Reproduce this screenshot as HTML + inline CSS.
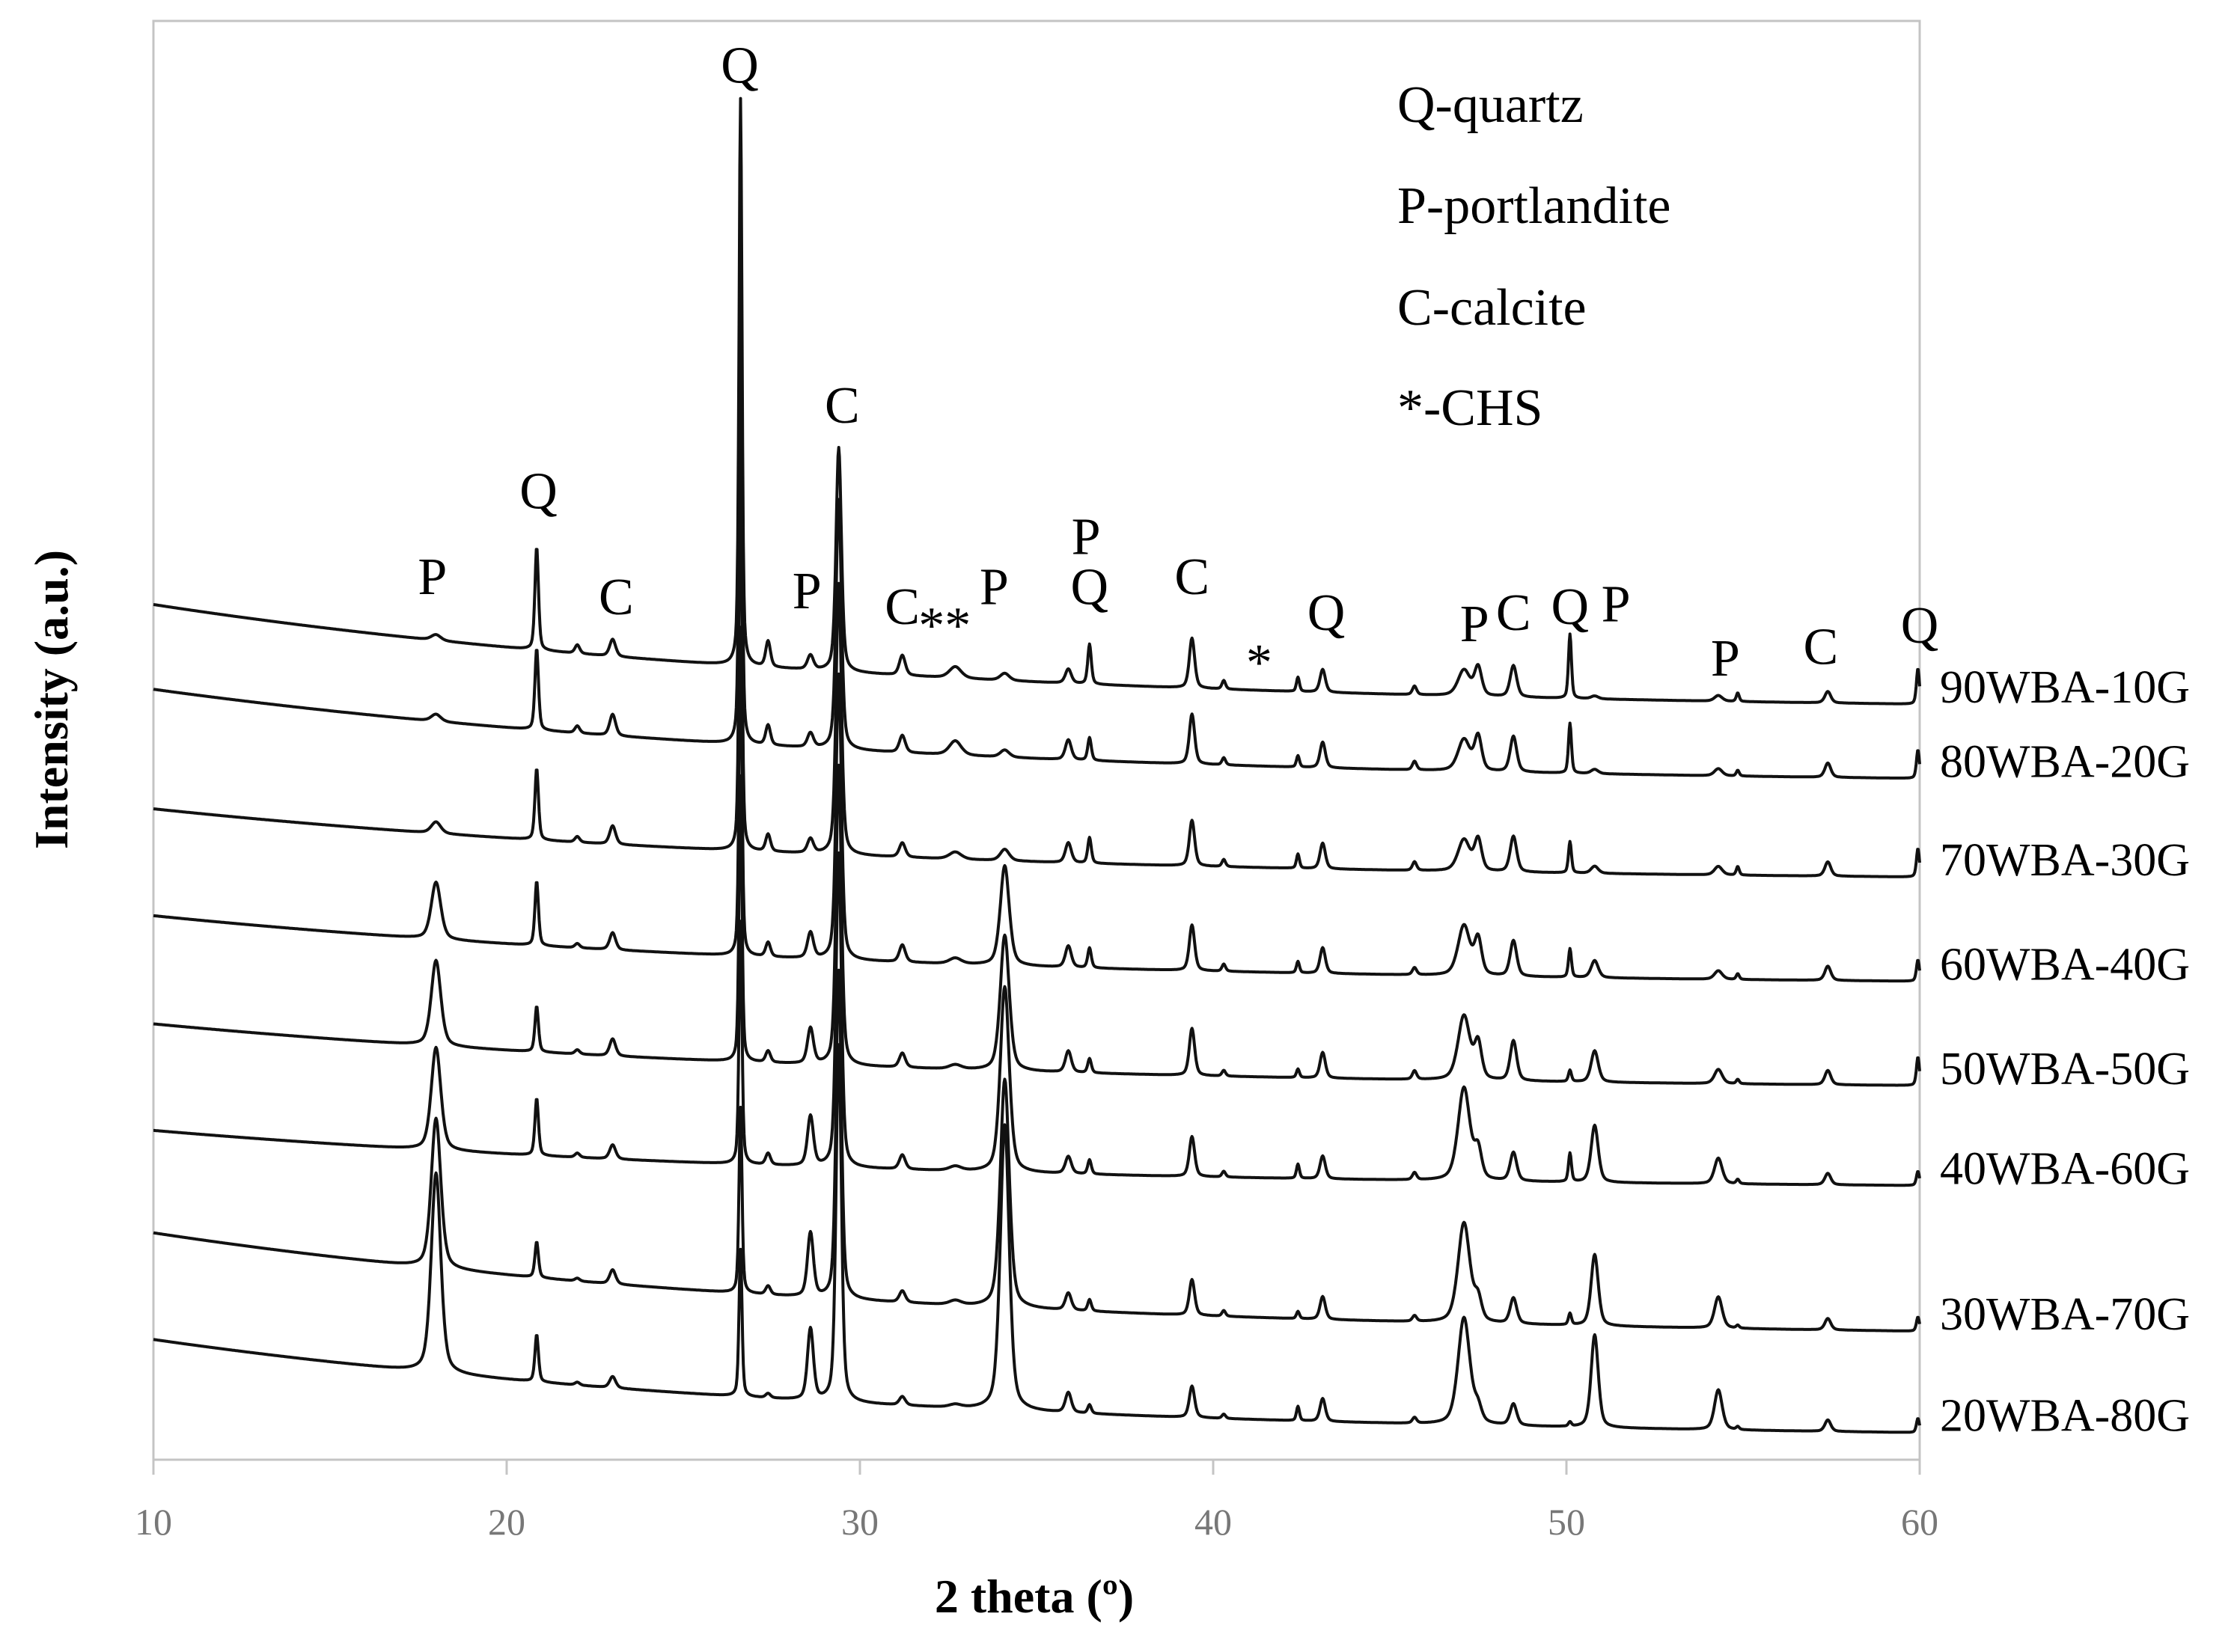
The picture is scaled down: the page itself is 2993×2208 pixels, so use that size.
<!DOCTYPE html>
<html><head><meta charset="utf-8"><style>
html,body{margin:0;padding:0;background:#fff}
svg{display:block}
text{font-family:"Liberation Serif",serif}
</style></head><body>
<svg id="chart" width="2993" height="2208" viewBox="0 0 2993 2208" xmlns="http://www.w3.org/2000/svg">
<rect x="205" y="28" width="2360" height="1923" fill="none" stroke="#c4c4c4" stroke-width="3"/>
<g id="xaxis"></g>
<g id="series"></g>
<g id="labels"></g>
<g id="peaklabels"></g>
<g font-size="70">
<text x="1867" y="163">Q-quartz</text>
<text x="1867" y="298">P-portlandite</text>
<text x="1867" y="434">C-calcite</text>
<text x="1867" y="568">*-CHS</text>
</g>
<text x="1382" y="2155" font-size="64" font-weight="bold" text-anchor="middle">2 theta (º)</text>
<text transform="translate(90,935) rotate(-90)" font-size="64" font-weight="bold" text-anchor="middle">Intensity (a.u.)</text>
</svg>
<script>
const seriesNames = ["90WBA-10G","80WBA-20G","70WBA-30G","60WBA-40G","50WBA-50G","40WBA-60G","30WBA-70G","20WBA-80G"];
const seriesLevels = [529,477,408,335,262,192,90,19];
const seriesBackground = [76,68,52,50,47,42,75,71];
const xTicks = [10,20,30,40,50,60];
const peakPositions = [18.0,20.85,22.0,23.0,26.62,27.4,28.6,29.4,31.2,32.7,34.1,35.9,36.5,39.4,40.3,42.4,43.1,45.7,47.1,47.5,48.5,50.1,50.8,54.3,54.85,57.4,59.95];
const peakWidths = [0.16,0.06,0.08,0.1,0.05,0.08,0.1,0.09,0.1,0.2,0.15,0.1,0.06,0.09,0.06,0.05,0.09,0.07,0.2,0.12,0.11,0.05,0.12,0.13,0.05,0.1,0.05];
const h90 = [4,72,6,12,397,18,10,157,14,8,5,10,28,35,6,10,16,6,18,20,22,45,2,4,6,8,25];
const h80 = [5,57,5,15,330,14,10,175,12,10,5,14,16,35,5,8,18,6,22,24,25,35,3,5,4,10,20];
const h70 = [8,50,4,13,280,12,10,190,10,5,8,14,18,32,5,10,18,6,22,22,25,22,5,6,6,10,20];
const h60 = [40,45,3,12,230,10,18,200,12,4,70,15,14,32,5,8,18,5,35,25,25,20,12,6,4,10,15];
const h50 = [60,32,3,12,200,8,25,210,10,3,95,15,10,33,4,6,18,6,45,25,28,8,22,10,3,10,20];
const h40 = [72,40,3,10,170,8,35,220,10,3,130,12,10,28,4,10,16,5,65,20,20,20,40,18,3,8,10];
const h30 = [105,25,2,10,130,6,45,230,8,3,160,12,8,25,4,5,16,4,70,15,18,8,50,22,2,8,10];
const h20 = [140,33,2,8,103,3,50,250,6,2,200,14,6,22,3,10,16,4,75,10,15,3,65,28,2,8,10];
const seriesHeights = [h90,h80,h70,h60,h50,h40,h30,h20];
const peakLabelText = ["P","Q","C","Q","P","C","C","**","P","P","Q","C","*","Q","P","C","Q","P","P","C","Q"];
const peakLabelX = [17.9,20.9,23.1,26.6,28.5,29.5,31.2,32.4,33.8,36.4,36.5,39.4,41.3,43.2,47.4,48.5,50.1,51.4,54.5,57.2,60.0];
const peakLabelTop = [403,343,417,45,413,283,424,437,410,375,410,403,463,428,436,428,424,422,460,452,437];

const SVGNS="http://www.w3.org/2000/svg";
const X0=205,X1=2565,Y0=1951,K=1.909;
function xs(v){return X0+(v-10)/50*(X1-X0);}
function ys(v){return Y0-v*K;}
function mk(tag,attrs,parent){const e=document.createElementNS(SVGNS,tag);for(const k in attrs)e.setAttribute(k,attrs[k]);parent.appendChild(e);return e;}

const xa=document.getElementById('xaxis');
xTicks.forEach(t=>{
  const ln=mk('line',{x1:xs(t),x2:xs(t),y1:Y0,y2:Y0+20,stroke:'#c4c4c4','stroke-width':3},xa);
  
  
  const tx=mk('text',{x:xs(t),y:Y0+100,'font-size':50,fill:'#777','text-anchor':'middle'},xa);
  
  
  tx.textContent=t;
});

const sg=document.getElementById('series');
const lg=document.getElementById('labels');
function intensity(si,x){
  let v=seriesLevels[si]+seriesBackground[si]*(Math.exp(-(x-10)/20)-Math.exp(-2.5));
  const hs=seriesHeights[si];
  for(let p=0;p<peakPositions.length;p++){
    const d=(x-peakPositions[p])/peakWidths[p];
    if(Math.abs(d)>60)continue;
    v+=hs[p]*(0.55*Math.exp(-0.693*d*d)+0.45/(1+d*d));
  }
  return v;
}
seriesNames.forEach((nm,si)=>{
  let d='';
  for(let i=0;i<=2500;i++){
    const x=10+i*0.02;
    d+=(i?'L':'M')+xs(x).toFixed(1)+','+ys(intensity(si,x)).toFixed(1);
  }
  const p=mk('path',{d:d,fill:'none',stroke:'#111','stroke-width':4,'stroke-linejoin':'round'},sg);
  
  
  const t=mk('text',{x:2592,y:ys(seriesLevels[si])-2,'font-size':62},lg);
  
  
  t.textContent=nm;
});

const pl=document.getElementById('peaklabels');
peakLabelText.forEach((s,i)=>{
  const t=mk('text',{x:xs(peakLabelX[i]),y:(peakLabelTop[i]+13)*K,'font-size':70,'text-anchor':'middle'},pl);
  
  
  t.textContent=s;
});
</script>
</body></html>
